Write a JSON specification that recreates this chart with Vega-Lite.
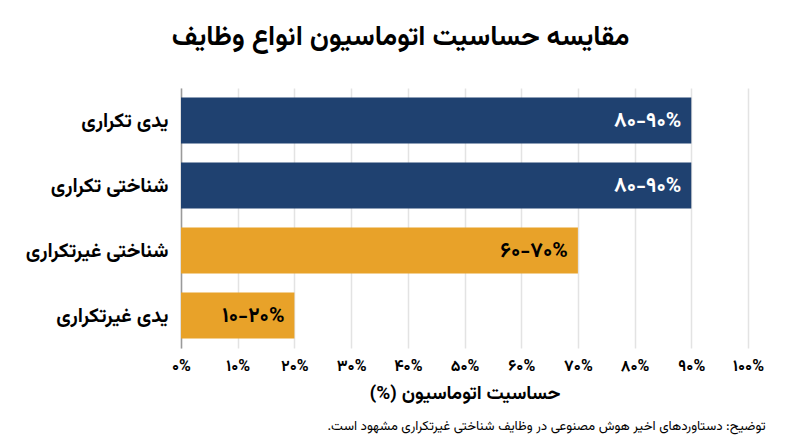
{
  "$schema": "https://vega.github.io/schema/vega-lite/v6.json",
  "background": "white",
  "autosize": {"type": "none"},
  "padding": {"left": 181, "top": 88, "right": 52, "bottom": 99},
  "width": 567,
  "height": 260,
  "config": {
    "font": "Vazirmatn, Noto Sans Arabic, DejaVu Sans, sans-serif",
    "view": {"stroke": null}
  },
  "title": {
    "text": "مقایسه حساسیت اتوماسیون انواع وظایف",
    "anchor": "middle",
    "frame": "group",
    "dx": -64,
    "offset": 38,
    "fontSize": 27.5,
    "fontWeight": "bold",
    "color": "#000000"
  },
  "data": {
    "values": [
      {"task": "یدی تکراری", "kind": "تکراری", "value": 90, "range": "۸۰-۹۰%"},
      {"task": "شناختی تکراری", "kind": "تکراری", "value": 90, "range": "۸۰-۹۰%"},
      {"task": "شناختی غیرتکراری", "kind": "غیرتکراری", "value": 70, "range": "۶۰-۷۰%"},
      {"task": "یدی غیرتکراری", "kind": "غیرتکراری", "value": 20, "range": "۱۰-۲۰%"}
    ]
  },
  "encoding": {
    "y": {
      "field": "task",
      "type": "nominal",
      "sort": null,
      "scale": {"paddingInner": 0.29, "paddingOuter": 0.145},
      "axis": {
        "title": null,
        "ticks": false,
        "domainColor": "#9a9a9a",
        "domainWidth": 1.5,
        "labelPadding": 13,
        "labelFontSize": 20,
        "labelFontWeight": "bold",
        "labelColor": "#000000"
      }
    }
  },
  "layer": [
    {
      "mark": {"type": "bar"},
      "encoding": {
        "x": {
          "field": "value",
          "type": "quantitative",
          "scale": {"domain": [0, 100], "nice": false},
          "axis": {
            "title": "حساسیت اتوماسیون (%)‏",
            "titleFontSize": 19,
            "titleFontWeight": "bold",
            "titleColor": "#000000",
            "titlePadding": 10,
            "values": [0, 10, 20, 30, 40, 50, 60, 70, 80, 90, 100],
            "labelExpr": "['۰%','۱۰%','۲۰%','۳۰%','۴۰%','۵۰%','۶۰%','۷۰%','۸۰%','۹۰%','۱۰۰%'][datum.value / 10]",
            "labelFontSize": 16,
            "labelFontWeight": "bold",
            "labelColor": "#000000",
            "labelPadding": 9,
            "labelFlush": false,
            "domain": false,
            "ticks": false,
            "grid": true,
            "gridColor": "#e3e3e3",
            "gridWidth": 1.5,
            "zindex": 0
          }
        },
        "color": {
          "field": "kind",
          "type": "nominal",
          "scale": {"domain": ["تکراری", "غیرتکراری"], "range": ["#1f4170", "#e8a229"]},
          "legend": null
        }
      }
    },
    {
      "mark": {"type": "text", "align": "right", "baseline": "middle", "dx": -10, "fontSize": 21, "fontWeight": "bold"},
      "encoding": {
        "x": {
          "field": "value",
          "type": "quantitative",
          "axis": {
            "orient": "bottom",
            "title": "توضیح: دستاوردهای اخیر هوش مصنوعی در وظایف شناختی غیرتکراری مشهود است.‏",
            "titleFontSize": 13.3,
            "titleFontWeight": "normal",
            "titleColor": "#000000",
            "titleX": 584,
            "titleY": 77,
            "titleAlign": "right",
            "titleBaseline": "middle",
            "labels": false,
            "ticks": false,
            "domain": false,
            "grid": false
          }
        },
        "text": {"field": "range"},
        "color": {
          "condition": {"test": "datum.kind == 'تکراری'", "value": "#ffffff"},
          "value": "#000000"
        }
      }
    }
  ],
  "resolve": {"axis": {"x": "independent"}}
}
